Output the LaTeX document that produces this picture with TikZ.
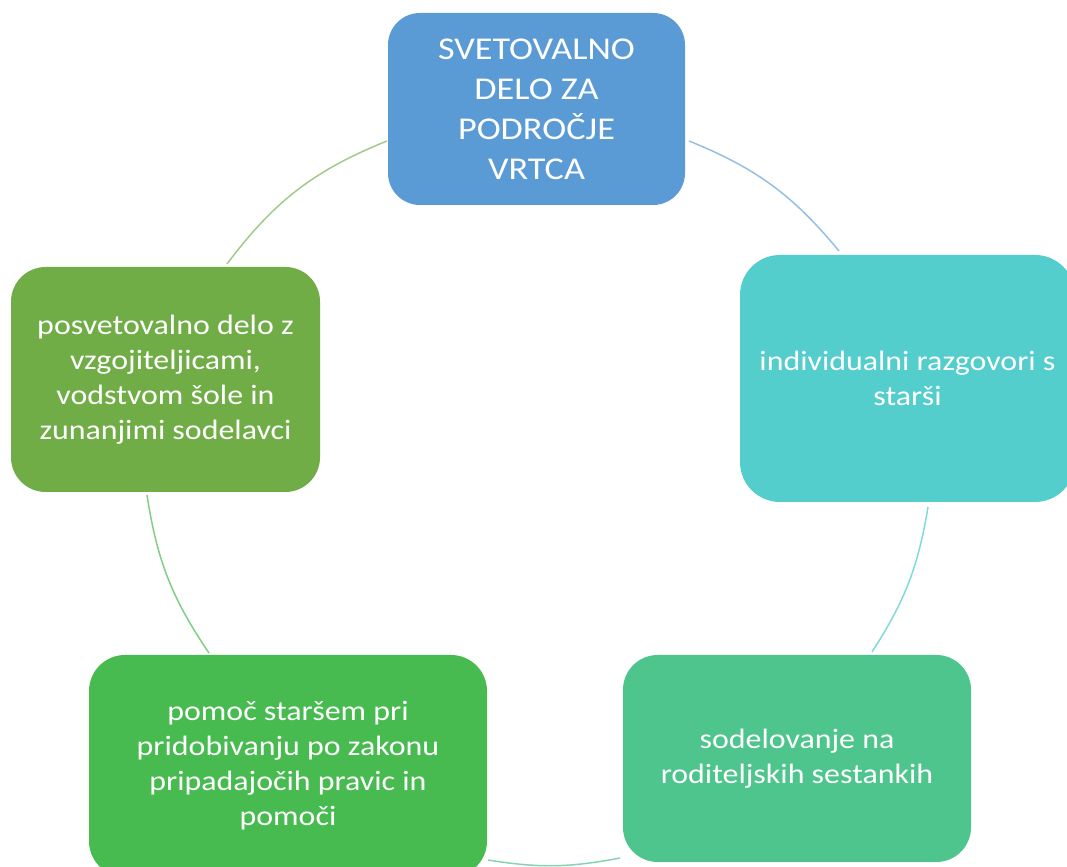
\documentclass[tikz,border=0pt]{standalone}
\usepackage{fontspec}
\setmainfont{Carlito}[FakeStretch=1.14]
\definecolor{cBlue}{HTML}{5B9BD5}
\definecolor{cTeal}{HTML}{54CDCD}
\definecolor{cSea}{HTML}{4DC58D}
\definecolor{cGreen}{HTML}{47BB4F}
\definecolor{cOlive}{HTML}{70AD47}
\tikzset{
  box/.style={draw=none, text=white, align=center, inner sep=0pt,
    font=\fontsize{21}{26.25}\selectfont},
  link/.style={line width=1.1pt},
}
\begin{document}
\begin{tikzpicture}[x=0.75pt,y=0.75pt]
\clip (0,0) rectangle (1067,867);
\fill[white] (0,0) rectangle (1067,867);
% boxes
\node[box, fill=cBlue, minimum width=222.75pt, minimum height=144pt, rounded corners=24pt,
  font=\fontsize{23.8}{30}\selectfont] (top) at (536.5,758)
  {SVETOVALNO\\DELO ZA\\PODROČJE\\VRTCA};
\node[box, fill=cTeal, minimum width=251.25pt, minimum height=185.25pt, rounded corners=30pt]
  (right) at (907.5,488.5) {individualni razgovori s\\starši};
\node[box, fill=cSea, minimum width=261pt, minimum height=155.25pt, rounded corners=26pt]
  (bright) at (797,108.5) {sodelovanje na\\roditeljskih sestankih};
\node[box, fill=cGreen, minimum width=298.5pt, minimum height=166.5pt, rounded corners=27pt]
  (bleft) at (288,101) {pomoč staršem pri\\pridobivanju po zakonu\\pripadajočih pravic in\\pomoči};
\node[box, fill=cOlive, minimum width=231.75pt, minimum height=168.75pt, rounded corners=26pt]
  (left) at (165.5,487.5) {posvetovalno delo z\\vzgojiteljicami,\\vodstvom šole in\\zunanjimi sodelavci};
% arc end points on the box borders
\coordinate (t1) at (689,726);
\coordinate (r1) at (839,616);
\coordinate (r2) at (928,360);
\coordinate (b1) at (872,215);
\coordinate (b2) at (620,9);
\coordinate (l1) at (488,7);
\coordinate (l2) at (209,214);
\coordinate (k1) at (147,372);
\coordinate (k2) at (227,603);
\coordinate (t2) at (387,726);
% connectors
\draw[link, cBlue!65] (t1) to[bend left=14.2] (r1);
\draw[link, cTeal!75] (r2) to[bend left=11.7] (b1);
\draw[link, cSea!70] (b2) to[bend left=10] (l1);
\draw[link, cGreen!70] (l2) to[bend left=12.7] (k1);
\draw[link, cOlive!65] (k2) to[bend left=15.5] (t2);
\end{tikzpicture}
\end{document}
